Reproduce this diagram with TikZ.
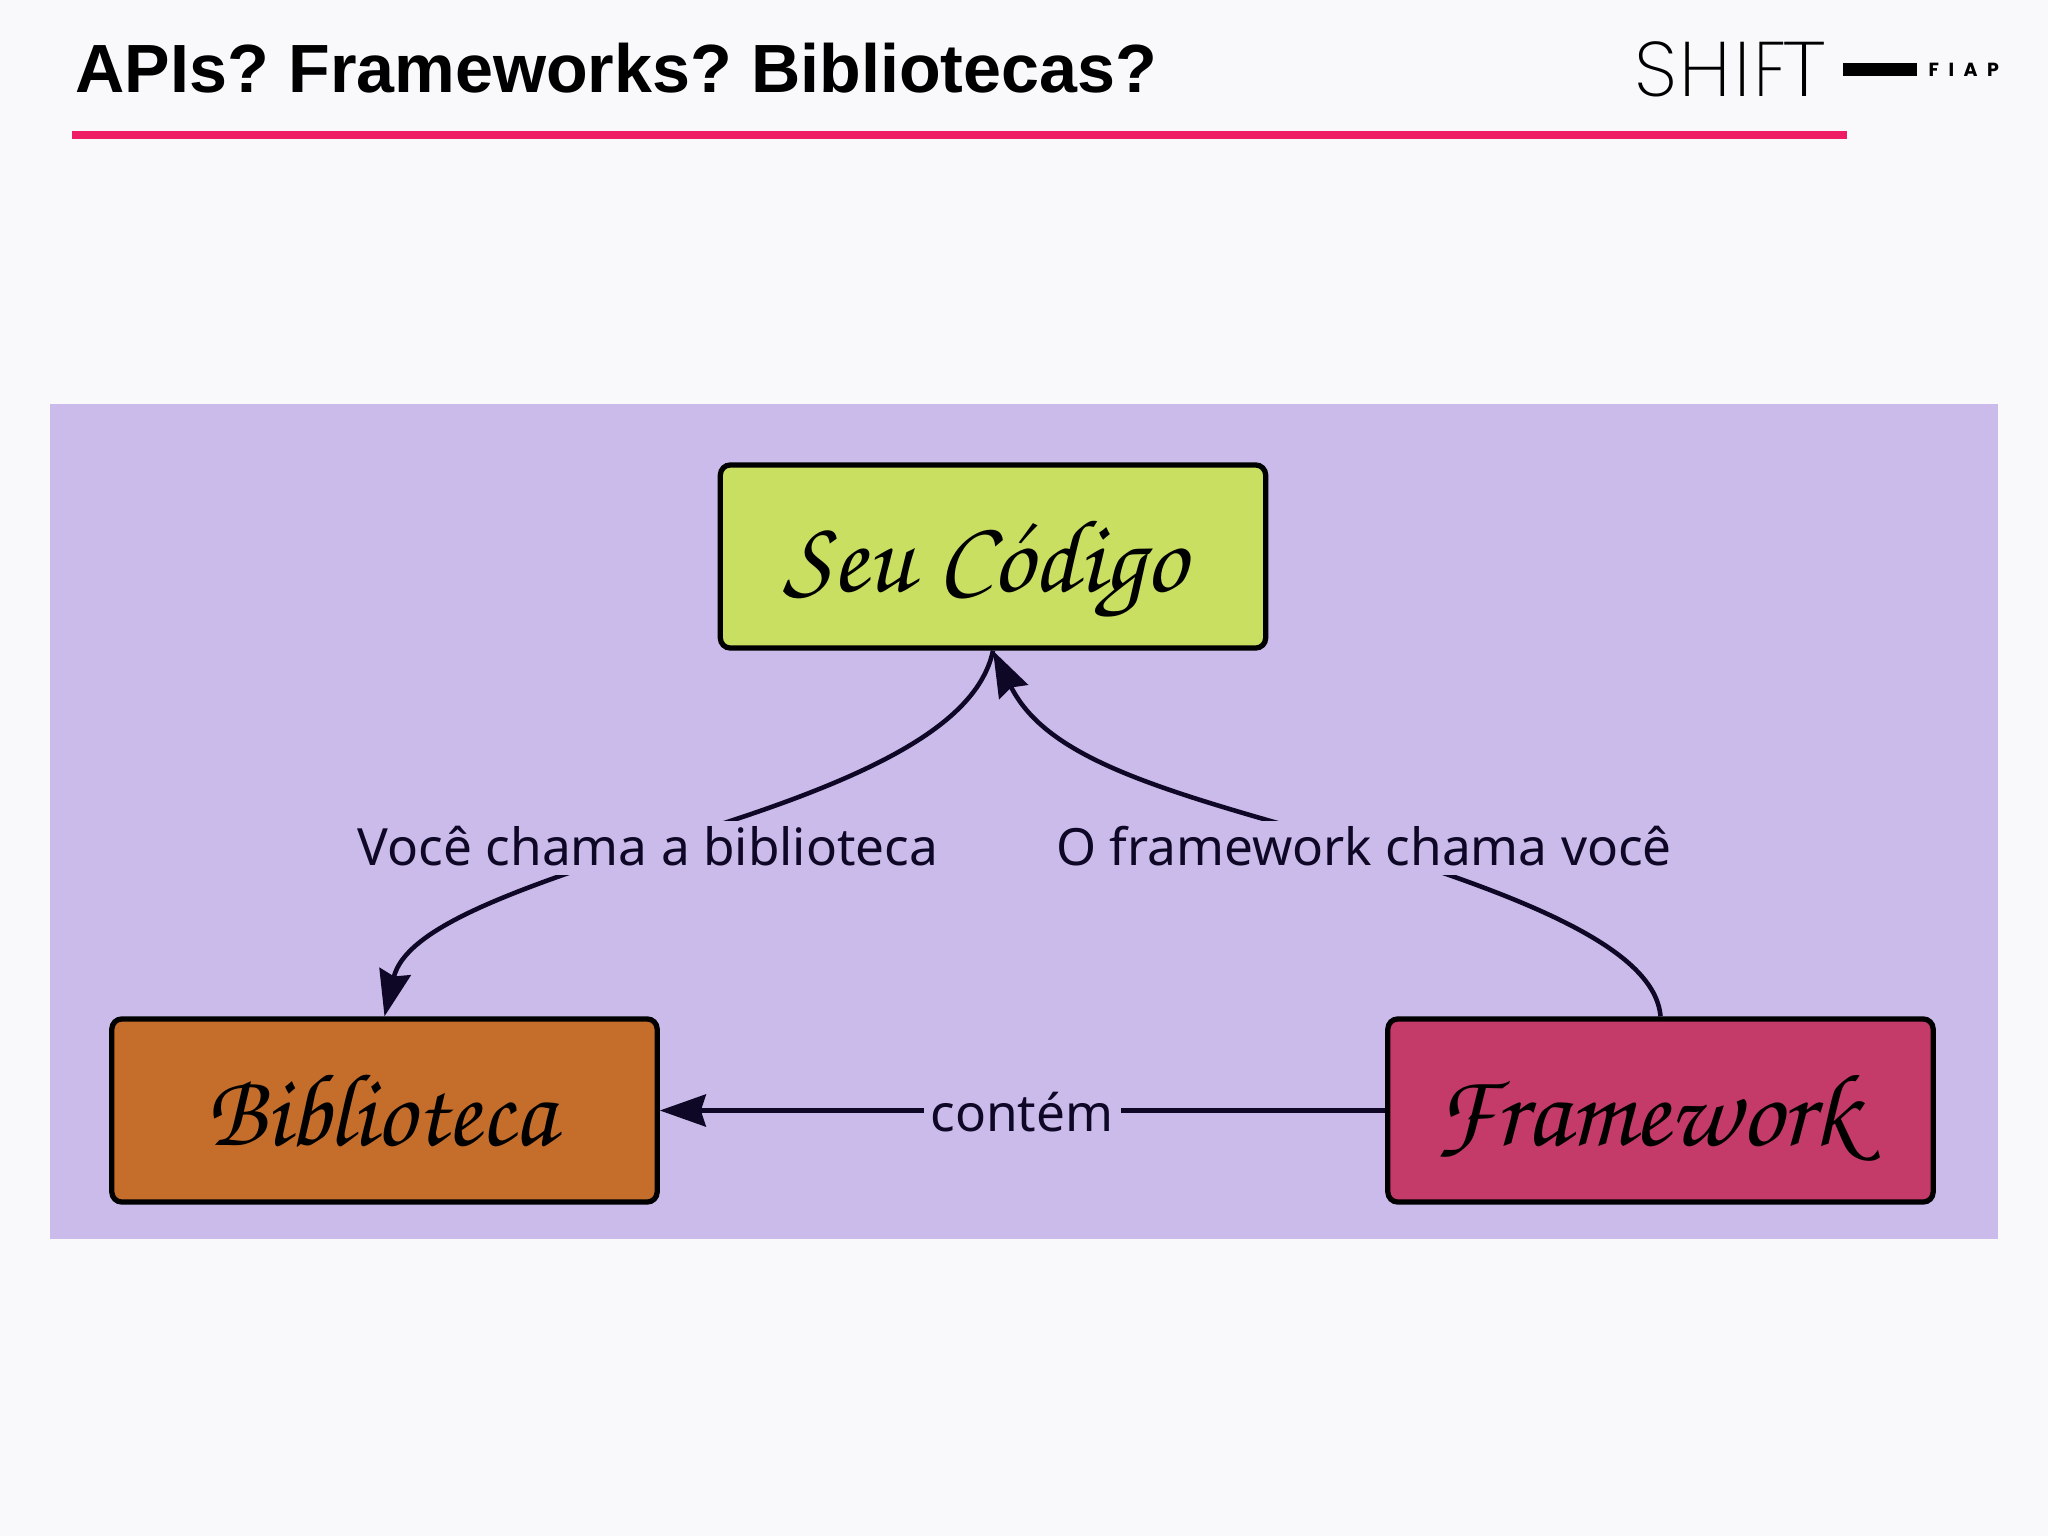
\documentclass[tikz,border=0pt]{standalone}
\usepackage[T1,TU]{fontenc}
\usepackage{fontspec}
\usepackage{graphicx}
\setmainfont{Liberation Sans}
\newfontfamily\labelfont{Noto Sans}
\newfontfamily\fiapfont[LetterSpace=50]{Poppins}
\newfontfamily\logofont{Poppins ExtraLight}
\newcommand{\handfont}{\usefont{T1}{pzc}{m}{it}}
\usetikzlibrary{arrows.meta}
\definecolor{pagebg}{HTML}{F9F9FB}
\definecolor{panelbg}{HTML}{CBBBEA}
\definecolor{rulepink}{HTML}{EE1C63}
\definecolor{codegreen}{HTML}{C9DF62}
\definecolor{liborange}{HTML}{C56E2C}
\definecolor{fwkred}{HTML}{C43A68}
\definecolor{inkdark}{HTML}{0E0726}
\tikzset{
  box/.style={shape=rectangle,draw=black,line width=1.5pt,rounded corners=1mm,minimum width=5.45cm,minimum height=1.83cm,inner sep=0pt,text height=10mm,text depth=3mm,font=\handfont\fontsize{29.5}{30}\selectfont,text=black},
  lbl/.style={fill=panelbg,text=inkdark,anchor=base,inner xsep=2pt,inner ysep=2.8pt,text height=9.6pt,text depth=0pt,font=\labelfont\fontsize{14.6}{16}\selectfont},
  link/.style={draw=inkdark,line width=1.3pt},
  head/.style={-{Stealth[length=4.6mm,width=3.2mm,inset=0.5mm]}}
}
\begin{document}
\begin{tikzpicture}[x=0.01cm,y=-0.01cm]
 \fill[pagebg] (0,0) rectangle (2048,1536);
 \useasboundingbox (0,0) rectangle (2048,1536);
 \node (title) at (75,68) [anchor=west,inner sep=0pt,font=\bfseries\fontsize{19.4}{21}\selectfont] {\spaceskip=3.7pt APIs? Frameworks? Bibliotecas?};
 \fill[rulepink] (72,131) rectangle (1847,139);
 \node (shift) at (1634,69.5) [anchor=west,inner sep=0pt,font=\logofont\fontsize{22}{22}\selectfont] {S\kern0.5pt H\kern1pt I\kern1pt\scalebox{0.85}[1]{F}\kern-1pt\scalebox{1.15}[1]{T}};
 \fill[black] (1843,63) rectangle (1917,76);
 \node (fiap) at (1928,69.5) [anchor=west,inner sep=0pt,font=\fiapfont\bfseries\fontsize{5.4}{6}\selectfont] {FIAP};
 \fill[panelbg] (50,404) rectangle (1998,1239);
 \node (seu) at (993,556.5) [box,fill=codegreen] {Seu C\'odigo\hspace*{4.5pt}};
 \node (bib) at (384.5,1110.5) [box,fill=liborange] {\scalebox{0.95}[1]{Biblioteca}\hspace*{2.3pt}};
 \node (fwk) at (1660.5,1110.5) [box,fill=fwkred] {Framework\hspace*{8pt}};
 \coordinate (midbib) at (640,849);
 \coordinate (midfwk) at (1380,852);
 \draw[link,head] (seu.south) .. controls (975,735) and (840,790) .. (midbib) .. controls (505,893) and (405,930) .. (bib.north);
 \draw[link,head] (fwk.north) .. controls (1655,950) and (1530,900) .. (midfwk) .. controls (1180,795) and (1050,765) .. (seu.south);
 \draw[link,head] (fwk.west) -- (bib.east);
 \node (callbib) at (648,865) [lbl] {Você chama a biblioteca};
 \node (callfwk) at (1364,865) [lbl] {O framework chama você};
 \node (has) at (1022,1131) [lbl] {contém};
\end{tikzpicture}
\end{document}
